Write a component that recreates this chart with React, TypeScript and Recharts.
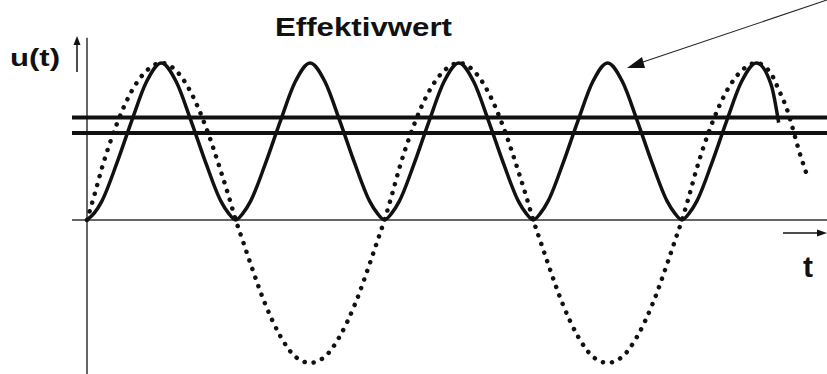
import React from "react"
import { ComposedChart, Line, XAxis, YAxis, ReferenceLine } from "recharts"

// time axis in half-periods of the supply voltage (denser near the zero crossings)
const times = [
  0, 0.05, 0.1, 0.2, 0.3, 0.4, 0.5, 0.6, 0.7, 0.8, 0.9, 0.95,
  1, 1.05, 1.1, 1.2, 1.3, 1.4, 1.5, 1.6, 1.7, 1.8, 1.9, 1.95,
  2, 2.05, 2.1, 2.2, 2.3, 2.4, 2.5, 2.6, 2.7, 2.8, 2.9, 2.95,
  3, 3.05, 3.1, 3.2, 3.3, 3.4, 3.5, 3.6, 3.7, 3.8, 3.9, 3.95,
  4, 4.05, 4.1, 4.2, 4.3, 4.4, 4.5, 4.6, 4.65, 4.7, 4.8, 4.85,
]

// solid curve (always positive, one hump per half-period)
const powerCurve = [
  0, 0.045, 0.12, 0.36, 0.63, 0.88, 1, 0.88, 0.63, 0.36, 0.12, 0.045,
  0, 0.045, 0.12, 0.36, 0.63, 0.88, 1, 0.88, 0.63, 0.36, 0.12, 0.045,
  0, 0.045, 0.12, 0.36, 0.63, 0.88, 1, 0.88, 0.63, 0.36, 0.12, 0.045,
  0, 0.045, 0.12, 0.36, 0.63, 0.88, 1, 0.88, 0.63, 0.36, 0.12, 0.045,
  0, 0.045, 0.12, 0.36, 0.63, 0.88, 1, 0.86, 0.62, null, null, null,
]

// dotted curve (the alternating voltage itself)
const voltageCurve = [
  0, 0.16, 0.33, 0.61, 0.82, 0.95, 1, 0.95, 0.81, 0.59, 0.31, 0.16,
  0, -0.14, -0.28, -0.54, -0.74, -0.87, -0.91, -0.87, -0.74, -0.54, -0.28, -0.14,
  0, 0.16, 0.33, 0.61, 0.82, 0.95, 1, 0.95, 0.81, 0.59, 0.31, 0.16,
  0, -0.14, -0.28, -0.54, -0.74, -0.87, -0.91, -0.87, -0.74, -0.54, -0.28, -0.14,
  0, 0.16, 0.33, 0.61, 0.82, 0.95, 1, 0.93, 0.83, 0.72, 0.4, 0.26,
]

// the two horizontal levels
const levels = [0.653, 0.554]

const data = times.map((t, i) => ({
  t,
  p: powerCurve[i],
  u: voltageCurve[i],
}))

const INK = "#111"
const FONT = "'Liberation Sans', Arial, sans-serif"

export default function App() {
  return (
    <div style={{ position: "fixed", left: 0, top: 0, width: 827, height: 374, background: "#fff" }}>
      <ComposedChart
        width={827}
        height={374}
        data={data}
        margin={{ top: 0, right: 0, bottom: 0, left: 72 }}
      >
        <XAxis dataKey="t" type="number" domain={[-0.1008, 4.975]} hide allowDataOverflow />
        <YAxis type="number" domain={[-0.981, 1.401]} hide width={0} allowDataOverflow />

        <ReferenceLine y={0} stroke="#333" strokeWidth={1.5} />
        <ReferenceLine
          segment={[{ x: 0, y: 1.16 }, { x: 0, y: -0.981 }]}
          stroke="#333"
          strokeWidth={1.5}
        />
        {levels.map((v) => (
          <ReferenceLine key={v} y={v} stroke={INK} strokeWidth={4} />
        ))}

        <Line
          dataKey="u"
          type="monotone"
          stroke={INK}
          strokeWidth={4.5}
          strokeDasharray="0.1 9"
          strokeLinecap="round"
          dot={false}
          isAnimationActive={false}
        />
        <Line
          dataKey="p"
          type="monotone"
          stroke={INK}
          strokeWidth={3.5}
          dot={false}
          isAnimationActive={false}
        />
      </ComposedChart>

      <svg
        width={827}
        height={374}
        style={{ position: "absolute", left: 0, top: 0, pointerEvents: "none" }}
      >
        <text x={275} y={36} fontFamily={FONT} fontWeight="bold" fontSize={26} fill={INK} textLength={177} lengthAdjust="spacingAndGlyphs">
          Effektivwert
        </text>
        <text x={10} y={66} fontFamily={FONT} fontWeight="bold" fontSize={24} fill={INK} textLength={50} lengthAdjust="spacingAndGlyphs">
          u(t)
        </text>
        <text x={803} y={277} fontFamily={FONT} fontWeight="bold" fontSize={30} fill={INK}>
          t
        </text>

        {/* small axis arrows */}
        <line x1={77} y1={72} x2={77} y2={42} stroke={INK} strokeWidth={1.5} />
        <polygon points="77,36 73.5,45 80.5,45" fill={INK} />
        <line x1={783} y1={233} x2={818} y2={233} stroke={INK} strokeWidth={1.5} />
        <polygon points="827,233 817,229.5 817,236.5" fill={INK} />

        {/* pointer to the hump */}
        <line x1={827} y1={0} x2={640} y2={63} stroke="#222" strokeWidth={1.1} />
        <polygon points="627,68 642,57 645,68" fill={INK} />
      </svg>
    </div>
  )
}
